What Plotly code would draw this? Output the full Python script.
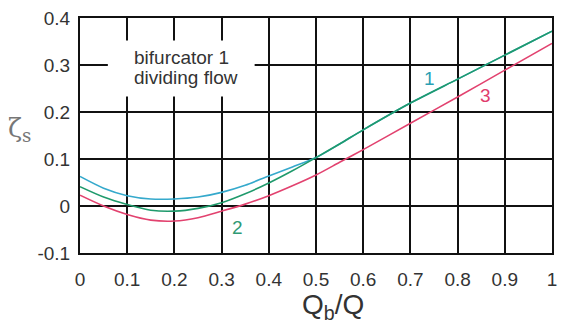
import plotly.graph_objects as go

# Data
q_ratio = [0.0, 0.05, 0.1, 0.15, 0.2, 0.25, 0.3, 0.35, 0.4, 0.45, 0.5, 0.55, 0.6, 0.7, 0.8, 0.9, 1.0]
zeta_1 = [0.063, 0.038, 0.022, 0.015, 0.015, 0.019, 0.029, 0.044, 0.064, 0.083, 0.103, 0.132, 0.162, 0.219, 0.270, 0.321, 0.372]
zeta_2 = [0.041, 0.019, 0.003, -0.009, -0.011, -0.005, 0.007, 0.026, 0.049, 0.075, 0.103, 0.132, 0.162, 0.219, 0.270, 0.321, 0.372]
zeta_3 = [0.023, 0.000, -0.018, -0.030, -0.032, -0.025, -0.011, 0.004, 0.022, 0.043, 0.066, 0.093, 0.120, 0.176, 0.232, 0.289, 0.346]

x_ticks = [0, 0.1, 0.2, 0.3, 0.4, 0.5, 0.6, 0.7, 0.8, 0.9, 1.0]
x_tick_text = ["0", "0.1", "0.2", "0.3", "0.4", "0.5", "0.6", "0.7", "0.8", "0.9", "1"]
y_ticks = [-0.1, 0, 0.1, 0.2, 0.3, 0.4]
y_tick_text = ["-0.1", "0", "0.1", "0.2", "0.3", "0.4"]

caption_lines = ["bifurcator 1", "dividing flow"]
caption_y = [0.315, 0.273]

curve_labels = ["1", "2", "3"]
label_x = [0.74, 0.333, 0.86]
label_y = [0.272, -0.045, 0.235]

c_cyan = "#35a9cc"
c_green = "#1f9a6c"
c_red = "#e2426f"
label_colors = ["#2a9fb4", "#2f9a74", "#e03c6c"]

FONT = "Liberation Sans, Arial, sans-serif"

fig = go.Figure()
for ys, col in [(zeta_1, c_cyan), (zeta_3, c_red), (zeta_2, c_green)]:
    fig.add_trace(go.Scatter(x=q_ratio, y=ys, mode="lines",
                             line=dict(color=col, width=1.6, shape="spline", smoothing=0.8),
                             showlegend=False, hoverinfo="skip"))

# white mask behind the caption (covers gridlines)
fig.add_shape(type="rect", xref="x", yref="y", x0=0.059, x1=0.37, y0=0.233, y1=0.352,
              fillcolor="white", line=dict(width=0), layer="above")
for line_text, cy in zip(caption_lines, caption_y):
    fig.add_annotation(x=0.111, y=cy, xref="x", yref="y", xanchor="left", yanchor="middle",
                       text=line_text, align="left", showarrow=False,
                       font=dict(family=FONT, size=19, color="#333333"))

for t, lx, ly, lc in zip(curve_labels, label_x, label_y, label_colors):
    fig.add_annotation(x=lx, y=ly, xref="x", yref="y", text=t, showarrow=False,
                       font=dict(family=FONT, size=19, color=lc))

# axis titles
fig.add_annotation(x=0.537, y=-0.227, xref="paper", yref="paper", text="Q<sub>b</sub>/Q",
                   showarrow=False, xanchor="center", yanchor="middle",
                   font=dict(family=FONT, size=28, color="#333333"))
fig.add_annotation(x=-0.128, y=0.525, xref="paper", yref="paper", text="ζ<sub>s</sub>",
                   showarrow=False, xanchor="center", yanchor="middle",
                   font=dict(family="DejaVu Serif, serif", size=26, color="#777777"))

axis_common = dict(showgrid=True, gridcolor="#111111", gridwidth=2,
                   showline=True, linecolor="#111111", linewidth=2, mirror=True,
                   zeroline=False, ticks="",
                   tickfont=dict(family=FONT, size=19, color="#333333"))

fig.update_xaxes(range=[0, 1], tickvals=x_ticks, ticktext=x_tick_text,
                 ticklabelstandoff=8, **axis_common)
fig.update_yaxes(range=[-0.1, 0.4], tickvals=y_ticks, ticktext=y_tick_text,
                 ticklabelstandoff=4, **axis_common)

fig.update_layout(width=565, height=329, margin=dict(l=80, r=8, t=15, b=76),
                  paper_bgcolor="white", plot_bgcolor="white")

fig.write_html("out.html")
